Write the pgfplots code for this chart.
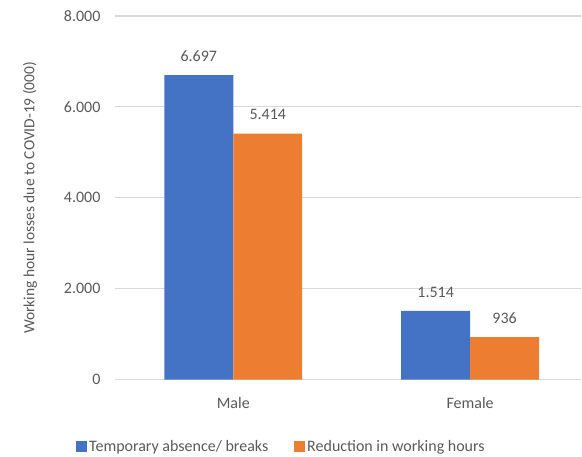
\documentclass[border=0pt]{standalone}
\usepackage{fontspec}
\setmainfont{Carlito}
\usepackage{pgfplots}
\pgfplotsset{compat=1.18}
\definecolor{cblue}{HTML}{4472C4}
\definecolor{corange}{HTML}{ED7D31}
\definecolor{txt}{HTML}{595959}
\definecolor{gridc}{HTML}{D9D9D9}
\begin{document}
\begin{tikzpicture}
\begin{axis}[
  scale only axis,
  width=467pt, height=364pt,
  xmin=-0.5, xmax=1.47,
  ymin=0, ymax=8000,
  ytick={0,2000,4000,6000,8000},
  xtick=data,
  xticklabels={Male,Female},
  ybar=0pt,
  bar width=69pt,
  axis line style={draw=none},
  major tick length=0pt,
  ymajorgrids,
  grid style={gridc, line width=1.2pt},
  clip=false,
  font=\fontsize{16}{18}\selectfont,
  tick label style={txt},
  /pgf/number format/assume math mode=true,
  /pgf/number format/1000 sep={.},
  scaled y ticks=false,
  yticklabel style={xshift=-11pt},
  xticklabel style={yshift=-14pt},
  ylabel={Working hour losses due to COVID-19 (000)},
  ylabel style={at={(axis description cs:-0.182,0.5)}, anchor=center, txt, font=\fontsize{15.5}{18}\selectfont},
  nodes near coords={\pgfmathprintnumber[assume math mode=true,1000 sep={.}]{\pgfplotspointmeta}},
  every node near coord/.append style={txt, yshift=10pt, font=\fontsize{16}{18}\selectfont},
  legend style={at={(0.357,-0.184)}, anchor=center, draw=none, fill=none,
    legend columns=2, /tikz/every even column/.append style={column sep=24pt},
    font=\fontsize{16}{18}\selectfont, text=txt},
  legend image code/.code={\fill[#1] (0pt,-5.5pt) rectangle (11pt,5.5pt);},
]
\addplot[fill=cblue, draw=none] coordinates {(0,6697) (1,1514)};
\addplot[fill=corange, draw=none] coordinates {(0,5414) (1,936)};
\legend{Temporary absence/ breaks, Reduction in working hours}
\path (rel axis cs:-0.2463,-0.2115) rectangle (rel axis cs:1.0,1.044);
\end{axis}
\end{tikzpicture}
\end{document}
